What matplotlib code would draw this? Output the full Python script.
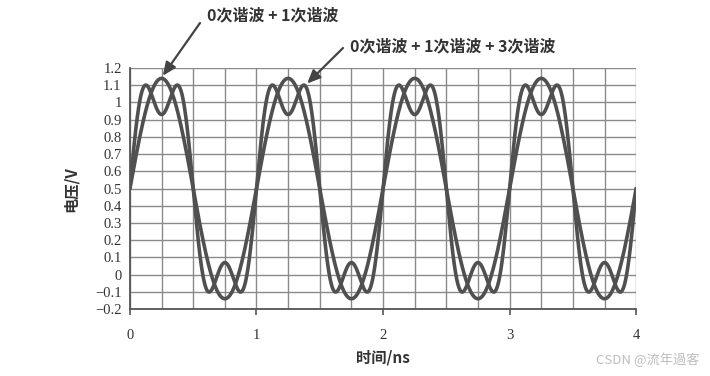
import numpy as np
import matplotlib
matplotlib.use('Agg')
import matplotlib.pyplot as plt
from matplotlib.ticker import MultipleLocator, FuncFormatter

plt.rcParams['font.family'] = ['Noto Sans CJK SC', 'DejaVu Sans']

# 谐波分量 (读图: 直流 0.5 V, 1次幅度 ~0.64 V, 3次幅度 ~0.21 V), 基频 1 GHz
harm_order = [0, 1, 3]
harm_amp = [0.5, 0.64, 0.21]
f0 = 1.0  # GHz
t_range = [0, 4]  # ns
labels = ['0次谐波 + 1次谐波', '0次谐波 + 1次谐波 + 3次谐波']

t = np.linspace(t_range[0], t_range[1], 2000)

def wave(orders):
    y = np.zeros_like(t)
    for n, a in zip(harm_order, harm_amp):
        if n not in orders:
            continue
        if n == 0:
            y += a
        else:
            y += a * np.sin(2 * np.pi * n * f0 * t)
    return y

y01 = wave([0, 1])
y013 = wave([0, 1, 3])

fig = plt.figure(figsize=(7.1, 3.76), dpi=100)
ax = fig.add_axes([0.183, 0.178, 0.713, 0.641])

line_c = '#505050'
ax.plot(t, y01, color=line_c, lw=2.6, solid_capstyle='round')
ax.plot(t, y013, color=line_c, lw=2.6, solid_capstyle='round')

ax.set_xlim(0, 4)
ax.set_ylim(-0.2, 1.2)
ax.xaxis.set_major_locator(MultipleLocator(1))
ax.xaxis.set_minor_locator(MultipleLocator(0.25))
ax.yaxis.set_major_locator(MultipleLocator(0.1))
ax.yaxis.set_major_formatter(FuncFormatter(lambda v, p: ('%g' % round(v, 1)).replace('-', '\u2212')))
ax.grid(True, which='both', color='#8a8a8a', lw=1.0)
ax.set_axisbelow(True)
ax.tick_params(axis='x', which='minor', length=0)
ax.tick_params(axis='x', which='major', length=4, width=1.2, color='#555555', pad=10)
ax.tick_params(axis='y', length=0, pad=6)
for lab in ax.get_xticklabels() + ax.get_yticklabels():
    lab.set_family('Liberation Serif')
    lab.set_fontsize(10.5)
    lab.set_color('#333333')
for s in ['top', 'right']:
    ax.spines[s].set_visible(False)
for s in ['left', 'bottom']:
    ax.spines[s].set_color('#555555')
    ax.spines[s].set_linewidth(1.3)

ax.set_xlabel('时间/ns', fontsize=11, fontweight='bold', color='#333333', labelpad=6)
ax.set_ylabel('电压/V', fontsize=11, fontweight='bold', color='#333333', labelpad=12)

# 标注文字 + 箭头
fig.text(273 / 710, 1 - 15 / 376, labels[0], fontsize=11.5, fontweight='bold',
         color='#333333', ha='center', va='center')
fig.text(453 / 710, 1 - 46 / 376, labels[1], fontsize=11.5, fontweight='bold',
         color='#333333', ha='center', va='center')
arrow = dict(arrowstyle='-|>,head_length=0.8,head_width=0.35', color='#444444', lw=1.6,
             shrinkA=0, shrinkB=0)
ax.annotate('', xy=(0.26, 1.155), xytext=(200 / 710, 1 - 23 / 376),
            textcoords='figure fraction', arrowprops=arrow, annotation_clip=False)
ax.annotate('', xy=(1.40, 1.11), xytext=(343 / 710, 1 - 48 / 376),
            textcoords='figure fraction', arrowprops=arrow, annotation_clip=False)

fig.text(0.985, 0.025, 'CSDN @流年過客', fontsize=9.5, color='#bdbdbd', ha='right', va='bottom')

fig.savefig('out.png', dpi=100)
